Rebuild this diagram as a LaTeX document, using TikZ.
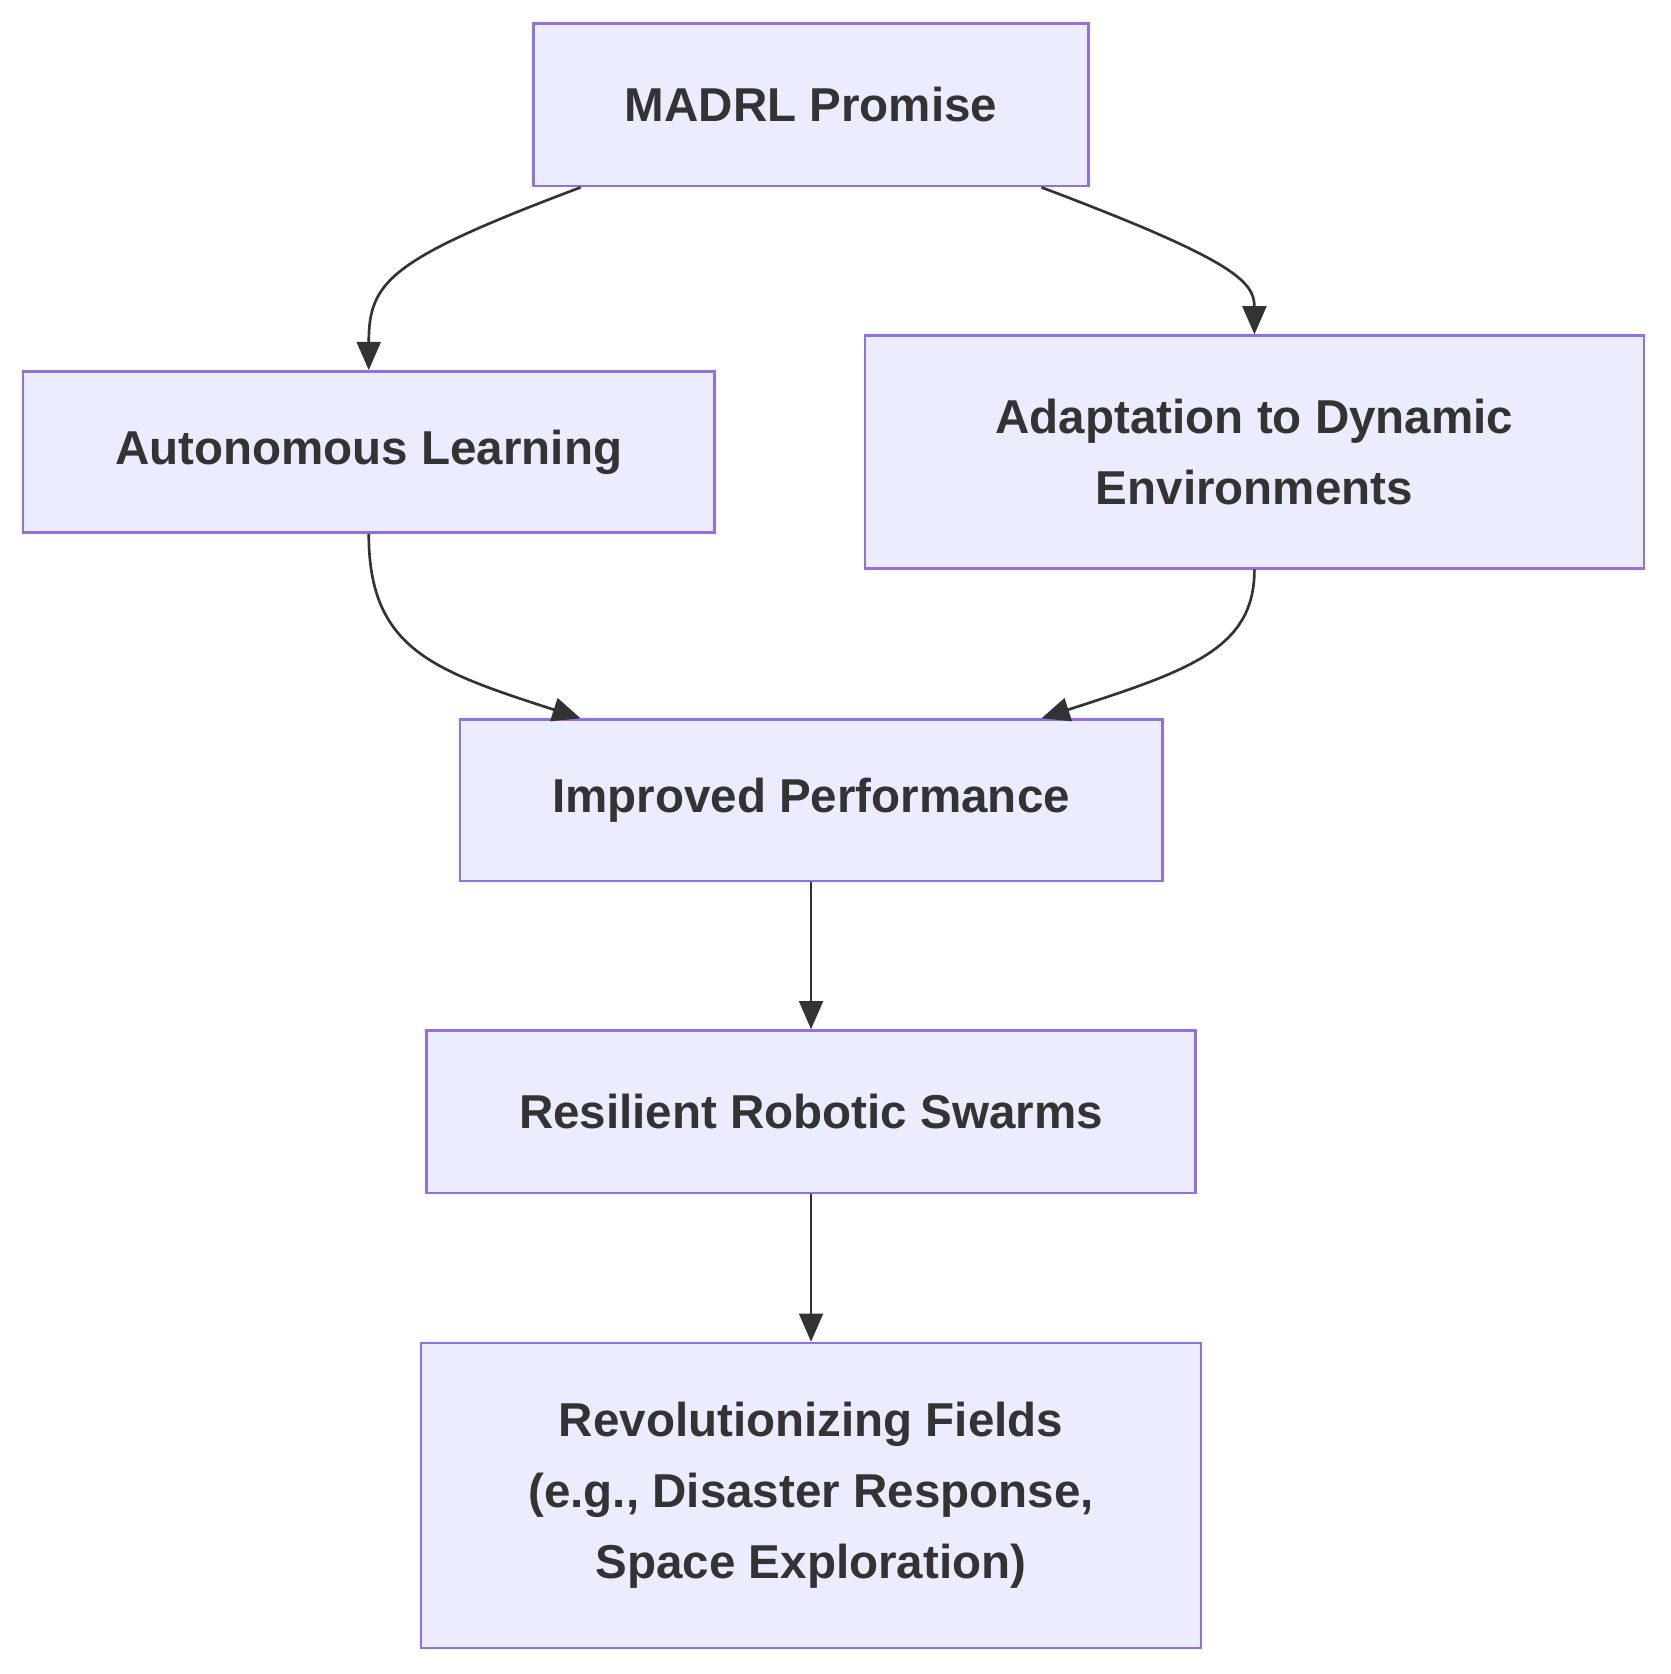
\documentclass[tikz,border=0pt]{standalone}
\usepackage{fontspec}
\setmainfont{Liberation Sans}
\usetikzlibrary{positioning,arrows.meta}
\definecolor{boxfill}{HTML}{ECECFF}
\definecolor{boxline}{HTML}{9370DB}
\definecolor{ink}{HTML}{333333}
\tikzset{
  box/.style = {rectangle, draw=boxline, fill=boxfill, line width=0.7pt,
                align=center, text=ink,
                font=\fontsize{12.5pt}{18.7pt}\selectfont\bfseries},
  arr/.style = {-{Triangle[length=2.6mm,width=2.2mm]}, draw=ink, line width=0.7pt}
}
\begin{document}
\begin{tikzpicture}[x=0.01cm,y=-0.01cm]
    \useasboundingbox (0,0) rectangle (1545,1548);
    \node[box,minimum width=5.13cm,minimum height=1.5cm] (madrl) at (750,97) {MADRL Promise};
    \node[box,minimum width=6.39cm,minimum height=1.49cm] (auto) at (341,418) {Autonomous Learning};
    \node[box,minimum width=7.2cm,minimum height=2.15cm] (adapt) at (1160,418) {Adaptation to Dynamic\\Environments};
    \node[box,minimum width=6.49cm,minimum height=1.49cm] (perf) at (750,740) {Improved Performance};
    \node[box,minimum width=7.11cm,minimum height=1.5cm] (swarm) at (750,1028) {Resilient Robotic Swarms};
    \node[box,minimum width=7.21cm,minimum height=2.82cm] (fields) at (750,1383) {Revolutionizing Fields\\(e.g., Disaster Response,\\Space Exploration)};
    \draw[arr] ([xshift=-2.13cm]madrl.south) .. controls (360,240) and (341,260) .. (auto.north);
    \draw[arr] ([xshift=2.13cm]madrl.south) .. controls (1140,240) and (1160,260) .. (adapt.north);
    \draw[arr] (auto.south) .. controls (341,600) and (400,620) .. ([xshift=-2.13cm]perf.north);
    \draw[arr] (adapt.south) .. controls (1160,600) and (1100,620) .. ([xshift=2.13cm]perf.north);
    \draw[arr] (perf)--(swarm);
    \draw[arr] (swarm)--(fields);
\end{tikzpicture}
\end{document}
